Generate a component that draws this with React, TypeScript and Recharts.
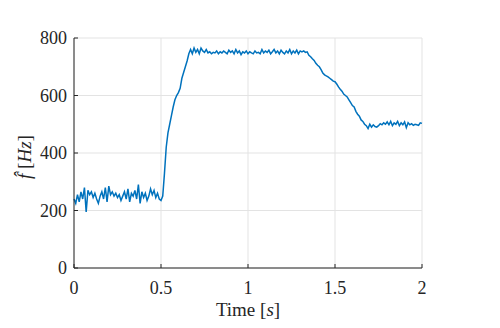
import React from "react";
import { LineChart, Line, XAxis, YAxis, CartesianGrid } from "recharts";

// sampling of the time axis (seconds)
const SAMPLE_STEP = 0.01;

// estimated frequency values f̂ [Hz], one per sample from 0 s to 2 s
const FREQ_START: number[] = [
  240, 225, 255, 230, 265, 240, 280, 195, 270, 255,
  265, 245, 260, 240, 225, 250, 265, 240, 280, 230,
  285, 255, 265, 250, 260, 245, 255, 235, 250, 265,
  240, 275, 230, 260, 250, 270, 240, 290, 225, 265,
  245, 260, 235, 250, 275, 255, 270, 245, 260, 240,
  235,
];
const FREQ_RISE: number[] = [
  250, 330, 420, 470, 500, 530, 560, 585, 600, 610,
  625, 660, 680, 700, 720, 745, 760, 745, 765, 750,
];
const FREQ_HIGH: number[] = [
  760, 745, 765, 755, 750, 760, 748, 752, 745, 750,
  748, 755, 745, 752, 748, 755, 750, 745, 758, 750,
  755, 745, 760, 748, 755, 742, 752, 748, 755, 745,
  752, 748, 745, 755, 748, 750, 745, 760, 748, 755,
  750, 758, 745, 752, 760, 748, 755, 745, 758, 750,
  745, 755, 748, 760, 745, 755, 748, 758, 745, 755,
  752, 755, 750, 752, 740,
];
const FREQ_FALL: number[] = [
  735, 728, 722, 712, 705, 700, 690, 678, 672, 668,
  665, 660, 655, 650, 648, 640, 630, 622, 615, 605,
  600, 595, 585, 575, 565, 560, 545, 535, 528, 515,
  510, 500, 495, 485,
];
const FREQ_LOW: number[] = [
  500, 490, 498, 492, 490, 495, 502, 498, 505, 500,
  508, 498, 510, 495, 505, 500, 510, 495, 505, 498,
  508, 488, 505, 498, 502, 496, 500, 498, 496, 505,
  503,
];

const X_TICKS = [0, 0.5, 1, 1.5, 2];
const Y_TICKS = [0, 200, 400, 600, 800];

const FREQ = [...FREQ_START, ...FREQ_RISE, ...FREQ_HIGH, ...FREQ_FALL, ...FREQ_LOW];
const data = FREQ.map((f, i) => ({ t: Math.round(i * SAMPLE_STEP * 100) / 100, f }));

const AX = "#262626";
const FONT = "Liberation Serif, Times New Roman, serif";

const BottomTick = (props: any) => {
  const { x, y, payload } = props;
  return (
    <g>
      <line x1={x} x2={x} y1={y} y2={y - 4} stroke={AX} strokeWidth={1} />
      <text x={x} y={y + 26} textAnchor="middle" fontFamily={FONT} fontSize={18} fill={AX}>
        {String(payload.value)}
      </text>
    </g>
  );
};
const TopTick = (props: any) => {
  const { x, y } = props;
  return <line x1={x} x2={x} y1={y} y2={y + 4} stroke={AX} strokeWidth={1} />;
};
const LeftTick = (props: any) => {
  const { x, y, payload } = props;
  return (
    <g>
      <line x1={x} x2={x + 4} y1={y} y2={y} stroke={AX} strokeWidth={1} />
      <text x={x - 7} y={y + 6} textAnchor="end" fontFamily={FONT} fontSize={18} fill={AX}>
        {String(payload.value)}
      </text>
    </g>
  );
};
const RightTick = (props: any) => {
  const { x, y } = props;
  return <line x1={x} x2={x - 4} y1={y} y2={y} stroke={AX} strokeWidth={1} />;
};

export default function App() {
  return (
    <div
      style={{ position: "absolute", left: 0, top: 0, width: 500, height: 328, background: "#fff", fontFamily: FONT }}
    >
      <LineChart
        width={500}
        height={328}
        data={data}
        margin={{ top: 38, right: 78, left: 0, bottom: 0 }}
        style={{ fontFamily: FONT }}
      >
        <CartesianGrid xAxisId="b" yAxisId="l" stroke="#e3e3e3" strokeWidth={1} />
        <XAxis
          xAxisId="b"
          dataKey="t"
          type="number"
          domain={[0, 2]}
          ticks={X_TICKS}
          height={60}
          tickSize={0}
          tickMargin={0}
          tickLine={false}
          axisLine={{ stroke: AX }}
          tick={<BottomTick />}
          interval={0}
        />
        <XAxis
          xAxisId="top"
          orientation="top"
          dataKey="t"
          type="number"
          domain={[0, 2]}
          ticks={X_TICKS}
          height={0}
          tickSize={0}
          tickMargin={0}
          tickLine={false}
          axisLine={{ stroke: AX }}
          tick={<TopTick />}
          interval={0}
        />
        <YAxis
          yAxisId="l"
          type="number"
          domain={[0, 800]}
          ticks={Y_TICKS}
          width={74}
          tickSize={0}
          tickMargin={0}
          tickLine={false}
          axisLine={{ stroke: AX }}
          tick={<LeftTick />}
          interval={0}
        />
        <YAxis
          yAxisId="r"
          orientation="right"
          type="number"
          domain={[0, 800]}
          ticks={Y_TICKS}
          width={0}
          tickSize={0}
          tickMargin={0}
          tickLine={false}
          axisLine={{ stroke: AX }}
          tick={<RightTick />}
          interval={0}
        />
        <Line
          xAxisId="b"
          yAxisId="l"
          type="linear"
          dataKey="f"
          stroke="#0072BD"
          strokeWidth={1.5}
          dot={false}
          isAnimationActive={false}
        />
        <text x={248} y={316} textAnchor="middle" fontFamily={FONT} fontSize={19} fill={AX}>
          Time [<tspan fontStyle="italic">s</tspan>]
        </text>
        <text
          x={0}
          y={0}
          transform="translate(31,157) rotate(-90)"
          textAnchor="middle"
          fontFamily={FONT}
          fontSize={19}
          fill={AX}
        >
          <tspan fontStyle="italic">f̂</tspan> [<tspan fontStyle="italic">Hz</tspan>]
        </text>
      </LineChart>
    </div>
  );
}
